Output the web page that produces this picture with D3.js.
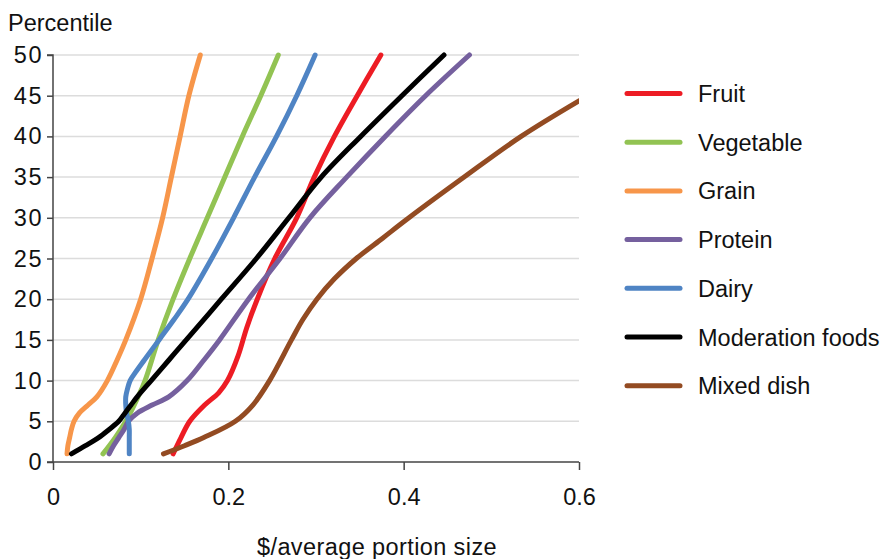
<!DOCTYPE html>
<html><head><meta charset="utf-8">
<script src="https://cdn.jsdelivr.net/npm/d3@7"></script>
<style>
body{margin:0;background:#fff;}
text{font-family:"Liberation Sans",Arial,sans-serif;fill:#111;}
</style></head>
<body><svg id="c" width="883" height="559"></svg>
<script>
// Percentile levels used for each series
const fruitPct = [1,3,5,7,8.5,10,13,16.5,20,25,30,35,40,45,50];
const fruitVal = [0.137,0.146,0.156,0.173,0.189,0.199,0.211,0.221,0.233,0.253,0.278,0.298,0.321,0.347,0.374];

const vegPct = [1,3,5,8,10,15,20,25,30,35,40,45,50];
const vegVal = [0.057,0.071,0.083,0.097,0.105,0.120,0.137,0.156,0.176,0.196,0.216,0.237,0.257];

const grainPct = [1,2,3,4,5,6,7,8,10,12.5,15,20,25,30,35,40,45,50];
const grainVal = [0.016,0.017,0.019,0.021,0.024,0.030,0.040,0.050,0.062,0.073,0.083,0.100,0.113,0.125,0.135,0.145,0.155,0.168];

const proteinPct = [1,2,3,4,5,6,7,8,10,12.5,15,20,25,30,35,40,45,50];
const proteinVal = [0.064,0.069,0.075,0.081,0.086,0.096,0.113,0.132,0.153,0.172,0.190,0.223,0.259,0.293,0.335,0.379,0.425,0.475];

const dairyPct = [1,2,3,4,5,6,7,8,9,10,11,12.5,15,17.5,20,25,30,35,40,45,50];
const dairyVal = [0.087,0.087,0.087,0.087,0.086,0.084,0.083,0.083,0.085,0.088,0.094,0.104,0.121,0.138,0.154,0.181,0.206,0.230,0.255,0.278,0.299];

const moderationPct = [1,2,3,4,5,6,7,8,10,12.5,15,20,25,30,35,40,45,50];
const moderationVal = [0.021,0.037,0.052,0.064,0.075,0.082,0.089,0.096,0.112,0.132,0.152,0.192,0.232,0.269,0.306,0.351,0.398,0.446];

const mixedPct = [1,2,3,5,7,10,15,17.5,20,22.5,25,27.5,30,35,40,45];
const mixedVal = [0.126,0.150,0.172,0.208,0.228,0.247,0.272,0.285,0.301,0.321,0.346,0.376,0.406,0.469,0.534,0.61];

const seriesNames = ["Fruit","Vegetable","Grain","Protein","Dairy","Moderation foods","Mixed dish"];
const seriesColors = ["#ed1c24","#92c353","#f7964a","#75609e","#4f84c4","#000000","#934b22"];
const seriesPct = [fruitPct,vegPct,grainPct,proteinPct,dairyPct,moderationPct,mixedPct];
const seriesVal = [fruitVal,vegVal,grainVal,proteinVal,dairyVal,moderationVal,mixedVal];

const xTicks = [0,0.2,0.4,0.6];
const xTickLabels = ["0","0.2","0.4","0.6"];
const yTicks = [0,5,10,15,20,25,30,35,40,45,50];

const FS = 23.5;
const svg = d3.select("#c");
const L=53,R=579,T=55,B=462;
const x = d3.scaleLinear().domain([0,0.6]).range([L,R]);
const y = d3.scaleLinear().domain([0,50]).range([B,T]);

svg.append("defs").append("clipPath").attr("id","clip")
  .append("rect").attr("x",L).attr("y",T-5).attr("width",R-L).attr("height",B-T+5);

// gridlines
svg.append("g").selectAll("line").data(yTicks.filter(d=>d>0)).join("line")
  .attr("x1",L).attr("x2",R).attr("y1",d=>y(d)).attr("y2",d=>y(d))
  .attr("stroke","#dcdcdc").attr("stroke-width",1.5);

// y axis
const yAxis = svg.append("g").attr("transform",`translate(${L},0)`)
  .call(d3.axisLeft(y).tickValues(yTicks).tickSize(6).tickPadding(4).tickFormat(d3.format("d")));
yAxis.select(".domain").attr("stroke","#444").attr("stroke-width",1.5).attr("d",`M-6,${T}H0V${B}H-6`);
yAxis.selectAll(".tick line").attr("stroke","#444").attr("stroke-width",1.5);
yAxis.selectAll(".tick text").attr("font-size",FS).attr("letter-spacing",1.5).attr("font-family","Liberation Sans, Arial, sans-serif").attr("fill","#111");

// x axis
const xAxis = svg.append("g").attr("transform",`translate(0,${B})`)
  .call(d3.axisBottom(x).tickValues(xTicks).tickSize(8).tickPadding(18).tickFormat((d,i)=>xTickLabels[i]));
xAxis.select(".domain").attr("stroke","#444").attr("stroke-width",1.5).attr("d",`M${L},0H${R}`);
xAxis.selectAll(".tick line").attr("stroke","#444").attr("stroke-width",1.5);
xAxis.selectAll(".tick text").attr("font-size",FS).attr("font-family","Liberation Sans, Arial, sans-serif").attr("fill","#111");

// lines
const line = d3.line().x(d=>x(d[1])).y(d=>y(d[0])).curve(d3.curveCatmullRom.alpha(0.5));
const g = svg.append("g").attr("clip-path","url(#clip)");
seriesNames.forEach((n,i)=>{
  const data = seriesPct[i].map((p,j)=>[p,seriesVal[i][j]]);
  g.append("path").datum(data).attr("d",line).attr("fill","none")
   .attr("stroke",seriesColors[i]).attr("stroke-width",5).attr("stroke-linecap","round").attr("stroke-linejoin","round");
});

// labels
svg.append("text").attr("x",8).attr("y",31).attr("font-size",FS).text("Percentile");
svg.append("text").attr("x",377).attr("y",555).attr("text-anchor","middle").attr("font-size",FS).attr("letter-spacing",0.4).text("$/average portion size");

// legend
const leg = svg.append("g");
seriesNames.forEach((n,i)=>{
  const yy = 93.5 + i*48.7;
  leg.append("line").attr("x1",627).attr("x2",680).attr("y1",yy).attr("y2",yy)
    .attr("stroke",seriesColors[i]).attr("stroke-width",5).attr("stroke-linecap","round");
  leg.append("text").attr("x",698).attr("y",yy+8.5).attr("font-size",FS).text(n);
});
</script></body></html>
